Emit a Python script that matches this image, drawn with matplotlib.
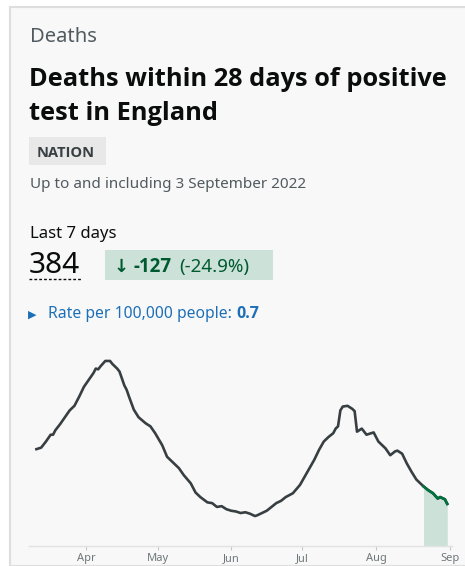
import matplotlib
matplotlib.use("Agg")
import matplotlib.pyplot as plt
from matplotlib.patches import Rectangle
from matplotlib.lines import Line2D
import pandas as pd

# 7-day average deaths
dates = ["2022-03-11", "2022-03-13", "2022-03-15", "2022-03-17", "2022-03-18",
         "2022-03-19", "2022-03-21", "2022-03-23", "2022-03-25", "2022-03-27",
         "2022-03-29", "2022-03-31", "2022-04-02", "2022-04-04", "2022-04-05",
         "2022-04-06", "2022-04-07", "2022-04-09", "2022-04-11", "2022-04-12",
         "2022-04-14", "2022-04-15", "2022-04-17", "2022-04-18", "2022-04-19",
         "2022-04-21", "2022-04-23", "2022-04-26", "2022-04-28", "2022-04-30",
         "2022-05-03", "2022-05-05", "2022-05-08", "2022-05-10", "2022-05-12",
         "2022-05-15", "2022-05-17", "2022-05-19", "2022-05-22", "2022-05-24",
         "2022-05-26", "2022-05-28", "2022-05-30", "2022-06-01", "2022-06-03",
         "2022-06-05", "2022-06-07", "2022-06-09", "2022-06-11", "2022-06-12",
         "2022-06-14", "2022-06-16", "2022-06-18", "2022-06-20", "2022-06-22",
         "2022-06-24", "2022-06-27", "2022-06-30", "2022-07-02", "2022-07-04",
         "2022-07-06", "2022-07-08", "2022-07-10", "2022-07-12", "2022-07-14",
         "2022-07-15", "2022-07-16", "2022-07-17", "2022-07-18", "2022-07-20",
         "2022-07-22", "2022-07-23", "2022-07-24", "2022-07-26", "2022-07-28",
         "2022-07-30", "2022-07-31", "2022-08-02", "2022-08-04", "2022-08-05",
         "2022-08-07", "2022-08-09", "2022-08-10", "2022-08-12", "2022-08-14",
         "2022-08-16", "2022-08-18", "2022-08-20", "2022-08-21", "2022-08-23",
         "2022-08-25", "2022-08-27", "2022-08-28", "2022-08-30", "2022-08-31"]
deaths = [127, 129, 137, 146, 146,
          152, 160, 169, 178, 184,
          196, 209, 218, 227, 233,
          232, 236, 243, 243, 239,
          233, 229, 211, 205, 196,
          179, 169, 161, 157, 148,
          132, 117, 108, 102, 93,
          82, 70, 64, 57, 56,
          51, 52, 48, 46, 45,
          43, 44, 42, 39, 40,
          43, 46, 51, 56, 59,
          64, 69, 80, 91, 102,
          113, 126, 137, 143, 148,
          154, 157, 178, 183, 184,
          180, 177, 150, 154, 146,
          148, 149, 137, 131, 128,
          119, 124, 125, 121, 108,
          97, 87, 81, 78, 73,
          69, 62, 64, 61, 55]
last7_start = "2022-08-21"
month_ticks = ["2022-04-01", "2022-05-01", "2022-06-01", "2022-07-01", "2022-08-01", "2022-09-01"]
month_labels = ["Apr", "May", "Jun", "Jul", "Aug", "Sep"]

W, H = 465, 566
fig = plt.figure(figsize=(W / 100, H / 100), dpi=100)
fig.patch.set_facecolor("white")
plt.rcParams["font.family"] = ["Noto Sans", "DejaVu Sans"]
BOLD = ["Open Sans", "DejaVu Sans"]


def px(x, y):
    return x / W, 1 - y / H


# card background
fig.patches.append(Rectangle(px(10, 566), (W - 10) / W + 0.01, (566 - 7) / H,
                             transform=fig.transFigure, facecolor="#f8f8f8",
                             edgecolor="#dedede", linewidth=1.5, zorder=-5))

fig.text(*px(30, 42), "Deaths", fontsize=14.5, color="#505a5f", va="baseline")
fig.text(*px(29, 86), "Deaths within 28 days of positive", fontsize=18.3,
         fontweight="bold", family=BOLD, color="#0b0c0c", va="baseline")
fig.text(*px(29, 120), "test in England", fontsize=18.3,
         fontweight="bold", family=BOLD, color="#0b0c0c", va="baseline")

# NATION tag
fig.patches.append(Rectangle(px(29, 165), 77 / W, 28 / H, transform=fig.transFigure,
                             facecolor="#e8e8e8", edgecolor="none", zorder=1))
fig.text(*px(37, 157), "NATION", fontsize=10.5, fontweight="bold", family=BOLD,
         color="#383f43", va="baseline", zorder=2)
fig.text(*px(30, 188), "Up to and including 3 September 2022", fontsize=11,
         color="#505a5f", va="baseline")

fig.text(*px(30, 238), "Last 7 days", fontsize=12, color="#0b0c0c", va="baseline")
fig.text(*px(29, 273), "384", fontsize=21.5, color="#0b0c0c", va="baseline")
x0, y0 = px(29, 279)
x1, _ = px(81, 279)
fig.lines.append(Line2D([x0, x1], [y0, y0], transform=fig.transFigure, color="#0b0c0c",
                        linewidth=1, linestyle=(0, (2, 1.5))))

# change box
fig.patches.append(Rectangle(px(105, 280), 168 / W, 30 / H, transform=fig.transFigure,
                             facecolor="#cce2d8", edgecolor="none", zorder=1))
fig.text(*px(114, 272), "\u2193", fontsize=13, fontweight="bold", color="#005a30",
         va="baseline", family="DejaVu Sans", zorder=2)
fig.text(*px(134, 272), "-127", fontsize=13.5, fontweight="bold", family=BOLD,
         color="#005a30", va="baseline", zorder=2)
fig.text(*px(179, 272), "(-24.9%)", fontsize=13.5, color="#005a30",
         va="baseline", zorder=2)

fig.text(*px(28, 318), "\u25b6", fontsize=8, color="#1d70b8", va="baseline",
         family="DejaVu Sans")
fig.text(*px(48, 318), "Rate per 100,000 people:", fontsize=11.3, color="#1d70b8",
         va="baseline")
fig.text(*px(236, 318), "0.7", fontsize=11.5, fontweight="bold", family=BOLD,
         color="#1d70b8", va="baseline")

# chart
left, right = 29.3, 452
top, bottom = 345, 545.7
ax = fig.add_axes([left / W, 1 - bottom / H, (right - left) / W, (bottom - top) / H])
ax.set_facecolor("none")

d = pd.to_datetime(dates)
s = pd.Series(deaths, index=d)
ax.plot(s.index, s.values, color="#383f43", linewidth=1.9, solid_joinstyle="round")
recent = s[s.index >= pd.Timestamp(last7_start)]
ax.fill_between(recent.index, 0, recent.values, color="#cce2d8", linewidth=0)
ax.plot(recent.index, recent.values, color="#00703c", linewidth=1.9)

ax.set_xlim(pd.Timestamp("2022-03-08"), pd.Timestamp("2022-09-02"))
ax.set_ylim(0, 264)
ax.set_xticks(pd.to_datetime(month_ticks))
ax.set_xticklabels(month_labels)
ax.set_yticks([])
for side in ["top", "right", "left"]:
    ax.spines[side].set_visible(False)
ax.spines["bottom"].set_color("#e2e2e2")
ax.spines["bottom"].set_linewidth(1)
ax.tick_params(axis="x", length=3, width=0.8, color="#c8c8c8", labelsize=8,
               labelcolor="#6f777b", pad=2.5)

fig.savefig("out.png", dpi=100, facecolor=fig.get_facecolor())
